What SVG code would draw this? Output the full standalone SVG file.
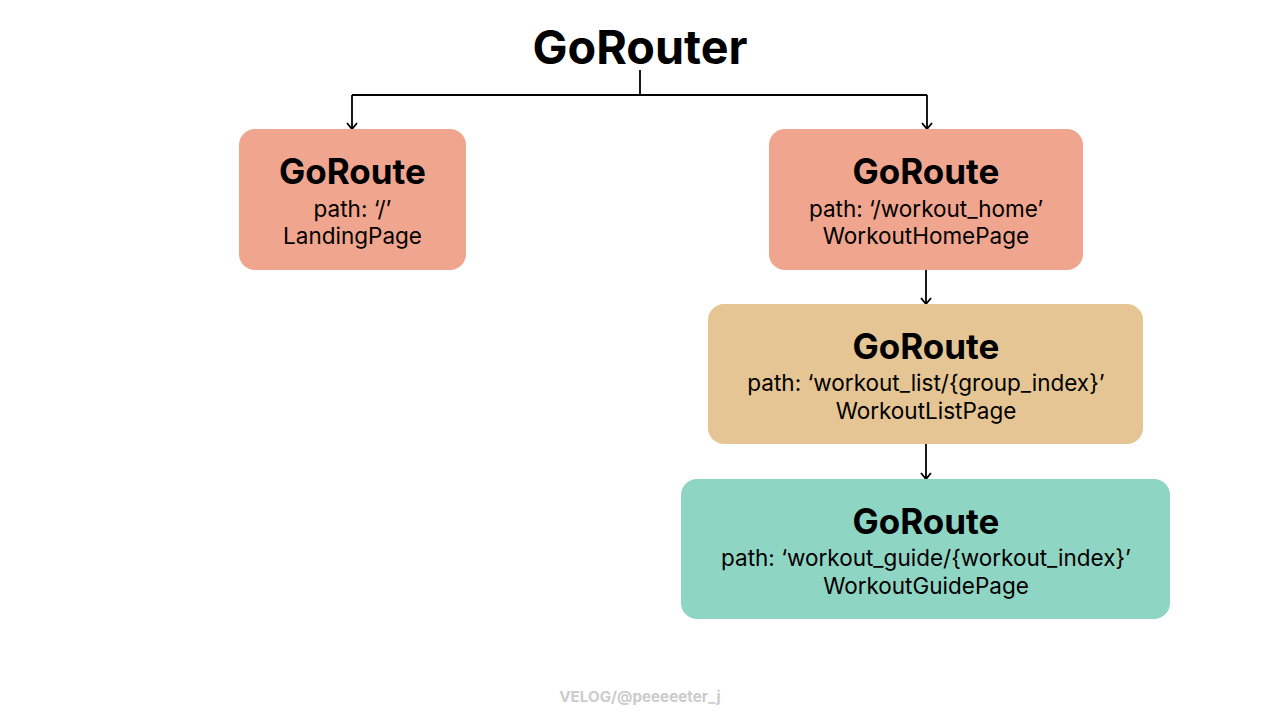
<svg xmlns="http://www.w3.org/2000/svg" width="1280" height="720" viewBox="0 0 1280 720">
<defs>
<marker id="arr" viewBox="0 0 12 12" refX="10" refY="6" markerWidth="12" markerHeight="12" markerUnits="userSpaceOnUse" orient="auto">
<path d="M4 1 L10 6 L4 11" fill="none" stroke="#000" stroke-width="1.8"/>
</marker>
<style>
.t{font-family:Inter,"Liberation Sans",sans-serif;text-anchor:middle;fill:#000}
.h{font-size:35px;font-weight:700}
.s{font-size:22.5px;font-weight:400}
.c{fill:none;stroke:#000;stroke-width:1.8}
</style>
</defs>
<rect width="1280" height="720" fill="#fff"/>
<text class="t" x="640" y="64" font-size="46.7" font-weight="700">GoRouter</text>
<g id="connectors">
<path class="c" d="M640 70 V95"/>
<path class="c" d="M352 95 H927"/>
<path class="c" d="M352 95 V129" marker-end="url(#arr)"/>
<path class="c" d="M927 95 V129" marker-end="url(#arr)"/>
<path class="c" d="M926 270 V304" marker-end="url(#arr)"/>
<path class="c" d="M926 444 V479" marker-end="url(#arr)"/>
</g>
<g id="landing">
<rect x="239" y="129" width="227" height="141" rx="16" fill="#F0A58E"/>
<text class="t h" x="352.5" y="184">GoRoute</text>
<text class="t s" x="352.5" y="217">path: ‘/’</text>
<text class="t s" x="352.5" y="244">LandingPage</text>
</g>
<g id="workout_home">
<rect x="769" y="129" width="314" height="141" rx="16" fill="#F0A58E"/>
<text class="t h" x="926" y="184">GoRoute</text>
<text class="t s" x="926" y="217">path: ‘/workout_home’</text>
<text class="t s" x="926" y="244">WorkoutHomePage</text>
</g>
<g id="workout_list">
<rect x="708" y="304" width="435" height="140" rx="16" fill="#E5C594"/>
<text class="t h" x="926" y="359">GoRoute</text>
<text class="t s" x="926" y="391">path: ‘workout_list/{group_index}’</text>
<text class="t s" x="926" y="419">WorkoutListPage</text>
</g>
<g id="workout_guide">
<rect x="681" y="479" width="489" height="140" rx="16" fill="#8FD5C4"/>
<text class="t h" x="926" y="534">GoRoute</text>
<text class="t s" x="926" y="566">path: ‘workout_guide/{workout_index}’</text>
<text class="t s" x="926" y="594">WorkoutGuidePage</text>
</g>
<text class="t" x="640" y="702" font-size="15.2" font-weight="700" style="fill:#cccccc">VELOG/@peeeeeter_j</text>
</svg>
